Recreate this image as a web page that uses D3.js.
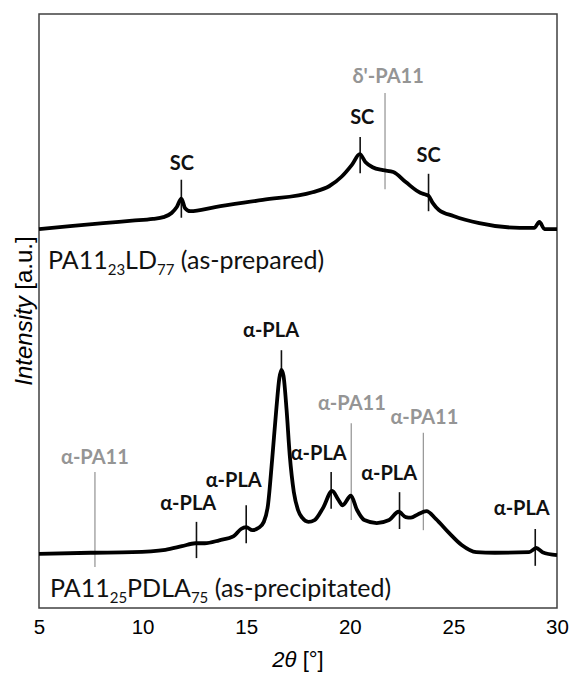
<!DOCTYPE html>
<html>
<head>
<meta charset="utf-8">
<script src="https://cdn.jsdelivr.net/npm/d3@7/dist/d3.min.js"></script>
<style>
  body { margin: 0; background: #fff; }
  svg text { font-family: "Liberation Sans", Arial, sans-serif; }
  svg .lbl { font-family: Lato, "Open Sans", sans-serif; }
</style>
</head>
<body>
<div id="chart"></div>
<script>
// 2theta / intensity (a.u.)
var thetaLD = [5, 6.5, 8.1, 9.5, 10.5, 11, 11.4, 11.65, 11.87, 12.05, 12.3, 13.5, 15.8, 18.2, 19, 19.6,
               20.1, 20.48, 20.75, 21.1, 21.6, 22.1, 22.7, 23.4, 23.65, 23.8, 24, 24.3, 25, 26.25,
               28.2, 28.9, 29.15, 29.4, 30];
var intLD = [63.8, 64.3, 64.8, 65.2, 65.5, 65.8, 66.5, 67.5, 68.9, 67.3, 66.8, 67.5, 68.7, 70.0, 71.0, 72.6,
             74.6, 76.4, 75.1, 74.2, 73.7, 73.4, 71.7, 69.9, 69.6, 69.4, 68.2, 67.0, 66.0, 64.8,
             64.0, 64.0, 65.0, 63.8, 63.8];

var thetaPDLA = [5, 7.5, 9.5, 11.1, 11.9, 12.55, 13, 13.7, 14.4, 14.75, 15, 15.3, 15.6, 15.85, 16.05,
                 16.25, 16.45, 16.6, 16.7, 16.8, 16.95, 17.1, 17.3, 17.5, 17.7, 18, 18.3, 18.7, 19.15,
                 19.45, 19.65, 20.05, 20.35, 20.7, 21.3, 21.9, 22.35, 22.7, 22.95, 23.3, 23.7, 24.15,
                 24.8, 25.4, 26.1, 27, 28.65, 29, 29.3, 30];
var intPDLA = [9.1, 9.3, 9.4, 9.8, 10.4, 10.9, 10.9, 11.4, 12.1, 13.3, 13.6, 13.1, 13.5, 14.5, 17.3,
               24.9, 33.3, 38.7, 40.1, 39.1, 33.3, 25.8, 19.5, 16.5, 15.2, 14.5, 14.8, 16.8, 19.7,
               18.2, 17.3, 18.9, 16.5, 14.8, 14.3, 14.8, 16.2, 15.3, 15.2, 15.8, 16.3, 15.0,
               12.6, 10.6, 9.4, 9.3, 9.4, 10.1, 9.4, 8.9];

var xTicks = [5, 10, 15, 20, 25, 30];

// peak markers: position, text, phase, marker top/bottom, label position
var peakTheta  = [11.87, 20.5, 23.8, 21.7, 7.7, 12.6, 15.0, 16.7, 19.1, 20.07, 22.4, 23.55, 28.95];
var peakLabel  = ["SC", "SC", "SC", "δ'-PA11", "α-PA11", "α-PLA", "α-PLA", "α-PLA", "α-PLA",
                  "α-PA11", "α-PLA", "α-PA11", "α-PLA"];
var peakPA11   = [false, false, false, true, true, false, false, false, false, true, false, true, false];
var markTop    = [72.1, 79.3, 73.1, 86.7, 22.9, 14.5, 17.3, 43.4, 22.9, 31.1, 19.5, 29.5, 13.3];
var markBottom = [65.7, 73.2, 66.8, 70.5, 6.9, 8.4, 10.9, 40.1, 16.7, 14.8, 13.3, 13.1, 7.1];
var labelTheta = [11.9, 20.6, 23.8, 21.85, 7.7, 12.2, 14.4, 16.2, 18.5, 20.1, 21.9, 23.6, 28.3];
var labelLevel = [74.9, 82.7, 76.3, 89.6, 25.4, 17.7, 21.5, 46.8, 26.1, 34.5, 22.7, 32.2, 16.8];

function init() {
    var w = 570, h = 676;
    var margin = {top: 14, right: 13, bottom: 68, left: 39};

    var svg = d3.select("#chart").append("svg")
        .attr("width", w)
        .attr("height", h);

    var x = d3.scaleLinear().domain([5, 30]).range([margin.left, w - margin.right]);
    var y = d3.scaleLinear().domain([0, 100]).range([h - margin.bottom, margin.top]);

    var line = d3.line()
        .x(function(d) { return x(d[0]); })
        .y(function(d) { return y(d[1]); })
        .curve(d3.curveMonotoneX);

    // plot box
    svg.append("rect")
        .attr("x", x(5)).attr("y", y(100))
        .attr("width", x(30) - x(5)).attr("height", y(0) - y(100))
        .attr("fill", "none").attr("stroke", "#404040").attr("stroke-width", 1.5);

    // x axis labels only (no tick marks)
    var xAxis = d3.axisBottom(x).tickValues(xTicks).tickSize(0).tickPadding(11);
    var gx = svg.append("g").attr("transform", "translate(0," + y(0) + ")").call(xAxis);
    gx.select(".domain").remove();
    gx.selectAll("text").style("font-size", "20.5px").style("fill", "#000")
        .style("font-family", "'Liberation Sans', Arial, sans-serif");

    // peak markers
    var idx = d3.range(peakTheta.length);
    svg.selectAll("line.mark").data(idx).enter().append("line")
        .attr("class", "mark")
        .attr("x1", function(i) { return x(peakTheta[i]); })
        .attr("x2", function(i) { return x(peakTheta[i]); })
        .attr("y1", function(i) { return y(markTop[i]); })
        .attr("y2", function(i) { return y(markBottom[i]); })
        .attr("stroke", function(i) { return peakPA11[i] ? "#9a9a9a" : "#111"; })
        .attr("stroke-width", function(i) { return peakPA11[i] ? 1.3 : 1.6; });

    // curves
    [[thetaLD, intLD], [thetaPDLA, intPDLA]].forEach(function(s) {
        svg.append("path")
            .datum(d3.zip(s[0], s[1]))
            .attr("d", line)
            .attr("fill", "none")
            .attr("stroke", "#000")
            .attr("stroke-width", 3.8)
            .attr("stroke-linejoin", "round");
    });

    svg.selectAll("text.peak").data(idx).enter().append("text")
        .attr("class", "lbl peak")
        .attr("x", function(i) { return x(labelTheta[i]); })
        .attr("y", function(i) { return y(labelLevel[i]); })
        .attr("dy", "0.36em")
        .attr("text-anchor", "middle")
        .style("font-size", "20px")
        .style("font-weight", "bold")
        .style("fill", function(i) { return peakPA11[i] ? "#959595" : "#111"; })
        .text(function(i) { return peakLabel[i]; });

    // sample names with subscripts
    function sampleName(parts, px, py) {
        var t = svg.append("text").attr("class", "lbl")
            .attr("x", px).attr("y", py)
            .style("font-size", "25px").style("fill", "#111");
        parts.forEach(function(p) {
            var sp = t.append("tspan").text(p[0]);
            if (p[1]) sp.style("font-size", "15px").attr("dy", 6);
            else if (p[2]) sp.attr("dy", -6);
        });
    }
    sampleName([["PA11"], ["23", 1], ["LD", 0, 1], ["77", 1], [" (as-prepared)", 0, 1]], x(5) + 9, y(57.1));
    sampleName([["PA11"], ["25", 1], ["PDLA", 0, 1], ["75", 1], [" (as-precipitated)", 0, 1]], x(5) + 11, y(1.85));

    // axis titles
    var xt = svg.append("text")
        .attr("x", (x(5) + x(30)) / 2).attr("y", h - 9)
        .attr("text-anchor", "middle")
        .style("font-size", "22px");
    xt.append("tspan").style("font-style", "italic").text("2θ");
    xt.append("tspan").text(" [°]");

    var yt = svg.append("text")
        .attr("transform", "translate(32," + 311 + ") rotate(-90)")
        .attr("text-anchor", "middle")
        .style("font-size", "24px");
    yt.append("tspan").style("font-style", "italic").text("Intensity");
    yt.append("tspan").text(" [a.u.]");
}

window.onload = init;
</script>
</body>
</html>
